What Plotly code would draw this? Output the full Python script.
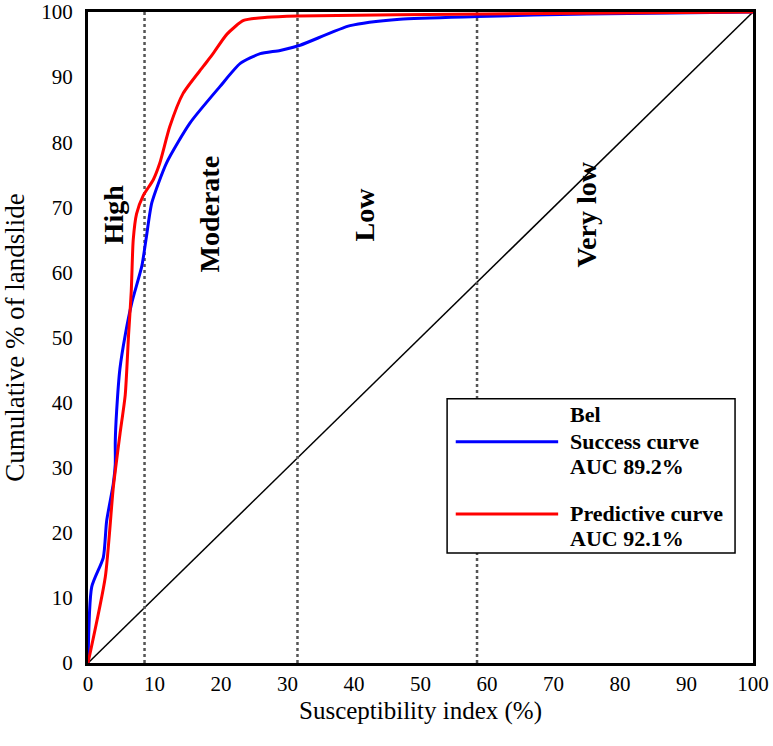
import plotly.graph_objects as go

# Success curve (Bel)
success_x = [0, 0.56, 2.3, 2.8, 3.8, 4.1, 4.1, 4.3, 4.8, 5.6, 6.6, 8.1, 8.8, 9.6, 11.8, 15.3, 19.8, 22.9, 25.9, 28.9, 31.9, 39.4, 46.9, 58.5, 75, 100]
success_y = [0, 11.7, 16.2, 21.8, 27.5, 30.5, 34.0, 38.6, 45.2, 50.4, 55.4, 61.0, 65.6, 70.7, 76.8, 82.9, 88.5, 92.1, 93.6, 94.1, 94.9, 97.9, 98.9, 99.3, 99.7, 100]

# Predictive curve
pred_x = [0, 2.6, 3.8, 4.8, 5.6, 6.1, 6.5, 6.8, 7.3, 8.3, 9.8, 10.8, 12.3, 14.3, 17.3, 18.8, 20.9, 23.4, 26.9, 31.5, 60, 100]
pred_y = [0, 13.2, 26.9, 35.1, 41.2, 50.4, 57.0, 65.0, 69.0, 71.8, 74.2, 76.8, 82.4, 87.5, 91.6, 93.6, 96.6, 98.7, 99.2, 99.4, 99.7, 100]

diag_x = [0, 100]
diag_y = [0, 100]

boundaries = [8.5, 31.5, 58.5]
zone_labels = ["High", "Moderate", "Low", "Very low"]
zone_label_x = [3.9, 18.2, 41.5, 74.9]
zone_label_y = [68.9, 68.9, 68.9, 68.9]

legend_success = ["Bel", "Success curve", "AUC 89.2%"]
legend_pred = ["Predictive curve", "AUC 92.1%"]

x_title = "Susceptibility index (%)"
y_title = "Cumulative % of landslide"

ticks = list(range(0, 101, 10))

FONT = "Liberation Serif"
BLUE = "#0000ff"
RED = "#ff0000"

fig = go.Figure()
fig.add_trace(go.Scatter(x=diag_x, y=diag_y, mode="lines",
                         line=dict(color="black", width=1.5), showlegend=False, hoverinfo="skip"))
for b in boundaries:
    fig.add_trace(go.Scatter(x=[b, b], y=[0, 100], mode="lines",
                             line=dict(color="#555555", width=2.5, dash="dot"),
                             showlegend=False, hoverinfo="skip"))
fig.add_trace(go.Scatter(x=success_x, y=success_y, mode="lines",
                         line=dict(color=BLUE, width=3, shape="spline", smoothing=0.6),
                         name="Success curve", showlegend=False))
fig.add_trace(go.Scatter(x=pred_x, y=pred_y, mode="lines",
                         line=dict(color=RED, width=3, shape="spline", smoothing=0.6),
                         name="Predictive curve", showlegend=False))

for t, xx, yy in zip(zone_labels, zone_label_x, zone_label_y):
    fig.add_annotation(x=xx, y=yy, text="<b>" + t + "</b>", showarrow=False, textangle=-90,
                       font=dict(family=FONT, size=28, color="black"))

# Legend box (drawn manually to reproduce the line spacing)
fig.add_shape(type="rect", xref="paper", yref="paper", x0=0.540, x1=0.973, y0=0.169, y1=0.406,
              line=dict(color="black", width=1.5), fillcolor="white", layer="above")
fig.add_shape(type="line", xref="paper", yref="paper", x0=0.553, x1=0.707, y0=0.340, y1=0.340,
              line=dict(color=BLUE, width=3), layer="above")
fig.add_shape(type="line", xref="paper", yref="paper", x0=0.553, x1=0.707, y0=0.229, y1=0.229,
              line=dict(color=RED, width=3), layer="above")
for t, yy in zip(legend_success + legend_pred, [0.382, 0.341, 0.302, 0.229, 0.191]):
    fig.add_annotation(xref="paper", yref="paper", x=0.722, y=yy, text="<b>" + t + "</b>",
                       showarrow=False, xanchor="left", yanchor="middle",
                       font=dict(family=FONT, size=22, color="black"))

# x-axis title placed as annotation to match its position
fig.add_annotation(xref="paper", yref="paper", x=0.5, y=-0.074, text=x_title, showarrow=False,
                   xanchor="center", yanchor="middle", font=dict(family=FONT, size=25, color="black"))

fig.update_layout(
    width=773, height=746,
    margin=dict(l=88, r=20, t=12, b=83),
    paper_bgcolor="white", plot_bgcolor="white",
    font=dict(family=FONT, color="black"),
    showlegend=False,
    xaxis=dict(range=[0, 100], tickvals=ticks, showgrid=False, zeroline=False,
               showline=True, linecolor="black", linewidth=3, mirror=True,
               ticks="", tickfont=dict(family=FONT, size=21), automargin=False,
               ticklabeloverflow="allow"),
    yaxis=dict(range=[0, 100], tickvals=ticks, showgrid=False, zeroline=False,
               showline=True, linecolor="black", linewidth=3, mirror=True,
               ticks="", tickfont=dict(family=FONT, size=21), automargin=False,
               ticklabelstandoff=8, ticklabeloverflow="allow",
               title=dict(text=y_title, font=dict(family=FONT, size=27), standoff=10)),
)

fig.write_html("out.html", config={"displayModeBar": False},
               post_script="document.body.style.margin='0';document.body.style.padding='0';")
